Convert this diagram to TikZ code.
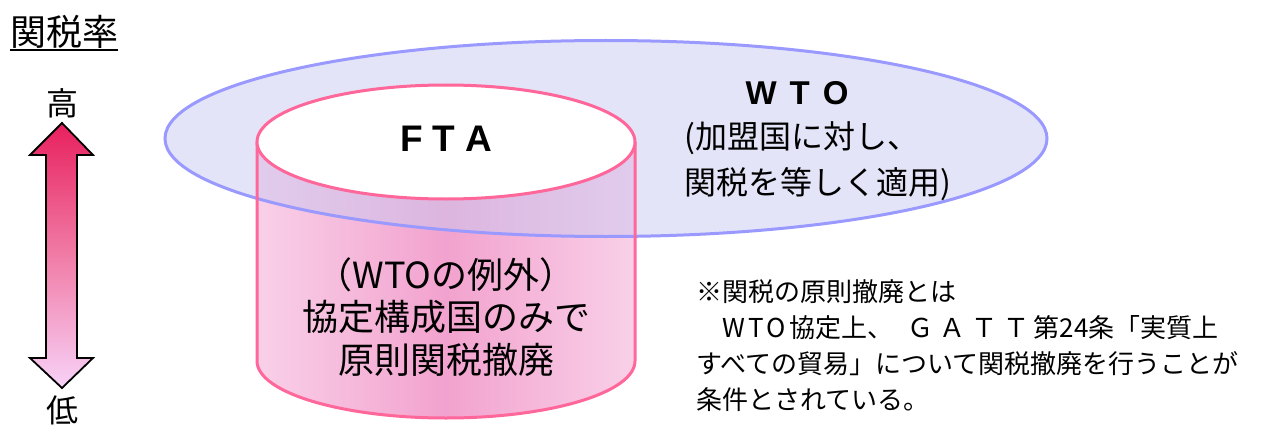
\documentclass[tikz,border=0pt]{standalone}
\usepackage{fontspec}
\setmainfont{Noto Sans CJK JP}
\newfontfamily\latinb{Liberation Sans}
\definecolor{arrtop}{HTML}{E8205E}
\definecolor{arrmid}{HTML}{F07CA6}
\definecolor{arrbot}{HTML}{F8D2F8}
\definecolor{pinkline}{HTML}{FF6699}
\definecolor{wtoline}{HTML}{9999FF}
\definecolor{wtofill}{HTML}{C9C9F1}
\definecolor{bodyedge}{HTML}{F9D0E8}
\definecolor{bodymid}{HTML}{F2A2CE}
\begin{document}
\begin{tikzpicture}[x=1pt,y=1pt,
  txt/.style={inner sep=0pt},
  cyl/.style={draw=pinkline, line width=3pt},
  bigcjk/.style={txt, font=\fontsize{36}{42.5}\selectfont, align=center},
  midcjk/.style={txt, font=\fontsize{32}{46}\selectfont, align=left},
  notecjk/.style={txt, font=\fontsize{26}{36}\selectfont, align=left},
  boldlat/.style={txt, font=\latinb\bfseries\fontsize{37}{37}\selectfont}]
\useasboundingbox (0,0) rectangle (1265,-425);

% title
\node[txt, font=\fontsize{36}{36}\selectfont] (title) at (64,-32) {関税率};
\draw[line width=1.5pt] ([yshift=-1pt]title.south west) -- ([yshift=-1pt]title.south east);

% arrow
\node[txt, font=\fontsize{32}{32}\selectfont] (hi) at (62,-103) {高};
\node[txt, font=\fontsize{32}{32}\selectfont] (lo) at (62,-410) {低};
\path[draw=black, line width=1.8pt, top color=arrtop, bottom color=arrbot, middle color=arrmid]
  (62,-123) -- (93,-155) -- (77,-155) -- (77,-358) -- (93,-358) -- (62,-388)
  -- (30,-358) -- (46,-358) -- (46,-155) -- (30,-155) -- cycle;

% cylinder body
\path[left color=bodyedge, right color=bodyedge, middle color=bodymid]
  (257,-142) -- (257,-361) arc[start angle=180, end angle=360, x radius=189pt, y radius=57pt]
  -- (635,-142) -- cycle;

% WTO ellipse
\path[fill=wtofill, fill opacity=0.5] (606,-138.5) ellipse[x radius=441pt, y radius=98pt];
\draw[draw=wtoline, line width=3pt] (606,-138.5) ellipse[x radius=441pt, y radius=98pt];

% cylinder outline
\draw[cyl] (257,-142) -- (257,-361) arc[start angle=180, end angle=360, x radius=189pt, y radius=57pt] -- (635,-142);
\draw[cyl, fill=white] (446,-142) ellipse[x radius=189pt, y radius=57pt];

% texts
\node[boldlat] (fta) at (446,-138.5) {F\hspace{10pt}T\hspace{10pt}A};
\node[boldlat, font=\latinb\bfseries\fontsize{33}{33}\selectfont] (wto) at (797,-93.5) {W\hspace{13pt}T\hspace{13pt}O};
\node[midcjk, anchor=west] (wtotxt) at (684,-161) {(加盟国に対し、\\関税を等しく適用)};
\node[bigcjk] (ftatxt) at (446,-317) {（WTOの例外）\\協定構成国のみで\\原則関税撤廃};
\node[notecjk, anchor=west] (note) at (696,-346)
  {※関税の原則撤廃とは\\　W\hspace{3pt}T\hspace{3pt}O\hspace{4pt}協定上、\hspace{14pt}Ｇ\hspace{6pt}Ａ\hspace{6pt}Ｔ\hspace{6pt}Ｔ\hspace{4pt}第24条「実質上\\すべての貿易」について関税撤廃を行うことが\\条件とされている。};
\end{tikzpicture}
\end{document}
